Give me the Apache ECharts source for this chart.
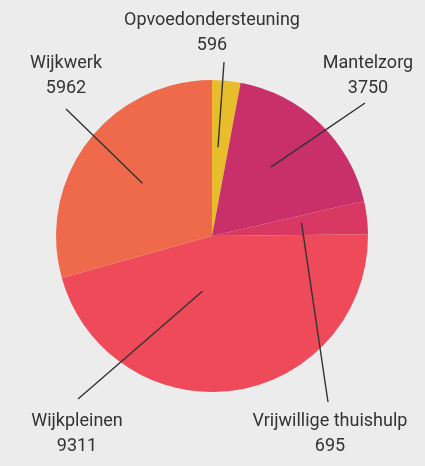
<!DOCTYPE html>
<html>
<head>
<meta charset="utf-8">
<script src="https://cdn.jsdelivr.net/npm/echarts@6/dist/echarts.min.js"></script>
<style>
html,body{margin:0;padding:0;background:#ececec;}
#chart{width:425px;height:466px;}
</style>
</head>
<body>
<div id="chart"></div>
<script>
// ---- data ----
var categories = ['Opvoedondersteuning', 'Mantelzorg', 'Vrijwillige thuishulp', 'Wijkpleinen', 'Wijkwerk'];
var values = [596, 3750, 695, 9311, 5962];

// ---- styling / layout (not data) ----
var sliceColors = ['#e8bd2c', '#c92f69', '#d83861', '#ee4a59', '#ee6a4a'];
var labelCenters = [[212, 33], [368, 76], [330, 434], [77, 434], [66, 76]];
var lineStarts = [[224, 62], [365, 103], [328, 402], [78, 399], [66, 109]];
var anchorFrac = [0.57, 0.58, 0.58, 0.36, 0.56];
var anchorAngleOffset = [-1.4, -3.3, -1.5, 18, 0];
var CX = 212, CY = 236, R = 156;

var total = values.reduce(function (a, b) { return a + b; }, 0);
function anchorPoint(i) {
  var start = 0;
  for (var k = 0; k < i; k++) start += values[k] / total * 360;
  var mid = start + values[i] / total * 180 + anchorAngleOffset[i];
  var rad = mid * Math.PI / 180;
  var rr = anchorFrac[i] * R;
  return [CX + rr * Math.sin(rad), CY - rr * Math.cos(rad)];
}

var common = {
  type: 'pie',
  center: [CX, CY],
  radius: R,
  startAngle: 90,
  clockwise: true,
  avoidLabelOverlap: false,
  emphasis: { disabled: true }
};

var chart = echarts.init(document.getElementById('chart'), null, { renderer: 'canvas' });
chart.setOption({
  backgroundColor: '#ececec',
  animation: false,
  series: [
    Object.assign({}, common, {
      z: 2,
      data: categories.map(function (c, i) {
        return { name: c, value: values[i], itemStyle: { color: sliceColors[i] } };
      }),
      itemStyle: { borderWidth: 0 },
      label: { show: false },
      labelLine: { show: false }
    }),
    Object.assign({}, common, {
      z: 5,
      silent: true,
      data: categories.map(function (c, i) {
        return { name: c, value: values[i], itemStyle: { color: 'rgba(0,0,0,0)' } };
      }),
      itemStyle: { borderWidth: 0 },
      label: {
        show: true,
        position: 'outside',
        formatter: '{b}\n{c}',
        fontFamily: 'Roboto',
        fontSize: 18,
        lineHeight: 25,
        color: '#333333',
        width: 260,
        overflow: 'none'
      },
      labelLine: {
        show: true,
        lineStyle: { color: '#333333', width: 1.4 }
      },
      labelLayout: function (p) {
        var i = p.dataIndex;
        var a = anchorPoint(i);
        var s = lineStarts[i];
        return {
          x: labelCenters[i][0],
          y: labelCenters[i][1],
          align: 'center',
          verticalAlign: 'middle',
          labelLinePoints: [s, [(s[0] + a[0]) / 2, (s[1] + a[1]) / 2], a]
        };
      }
    })
  ]
});
</script>
</body>
</html>
